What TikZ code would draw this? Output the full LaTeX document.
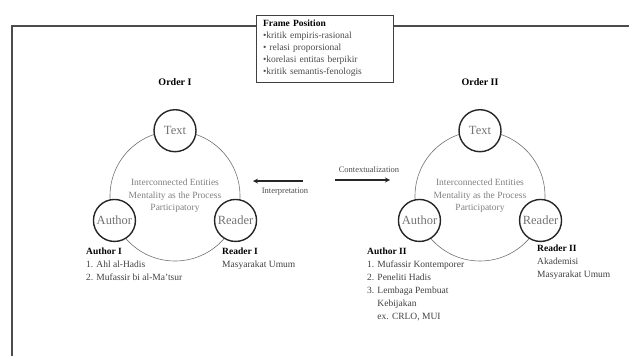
\documentclass[tikz,border=0pt]{standalone}
\usepackage{fontspec}
\setmainfont{Liberation Serif}
\usetikzlibrary{arrows,positioning}
\tikzstyle{ring}=[
  circle,
  draw=black!55,
  semithick,
  minimum size=130pt,
  inner sep=0pt,
  align=center,
  text=black!50,
  font={\fontsize{9.5}{12.5}\selectfont},
]
\tikzstyle{entity}=[
  circle,
  draw=black!85,
  line width=1.4pt,
  fill=white,
  minimum size=42pt,
  inner sep=0pt,
  text=black!55,
  font={\fontsize{12.5}{14}\selectfont},
]
\tikzstyle{order}=[
  font={\bfseries\fontsize{10}{12}\selectfont},
  inner sep=1pt,
]
\tikzstyle{list}=[
  anchor=north west,
  align=left,
  inner sep=0pt,
  text=black!75,
  font={\fontsize{9.5}{13}\selectfont},
]
\tikzstyle{caption}=[
  inner sep=1pt,
  text=black!70,
  font={\fontsize{8.5}{10}\selectfont},
]
\tikzstyle{box}=[
  draw=black!75,
  line width=1pt,
  fill=white,
  minimum width=137pt,
  minimum height=67pt,
  text width=123pt,
  inner xsep=7pt,
  align=left,
  text=black!70,
  font={\fontsize{9.5}{12}\selectfont},
]
\tikzstyle{frame}=[
  draw=black!70,
  line width=1.6pt,
]
\tikzstyle{arrow}=[
  color=black!85,
  draw=black!85,
  line width=1.2pt,
]
\tikzset{
  >=stealth,
}
\begin{document}
\begin{tikzpicture}[x=1pt,y=-1pt]
  \useasboundingbox (0,0) rectangle (629,356);
  \coordinate (corner-b) at (12,356);
  \coordinate (corner-a) at (12,26);
  \coordinate (corner-c) at (629,26);
  \draw [frame] (corner-b) -- (corner-a) -- (corner-c);
  \node (frame) [box] at (324.5,48.5) {\textcolor{black}{\textbf{Frame Position}}\\
    •kritik empiris-rasional\\
    • relasi proporsional\\
    •korelasi entitas berpikir\\
    •kritik semantis-fenologis};
  \node (ring1) [ring] at (175,196) {Interconnected Entities\\Mentality as the Process\\Participatory};
  \node (text1) [entity] at (ring1.north) {Text};
  \node (author1) [entity] at (ring1.202) {Author};
  \node (reader1) [entity] at (ring1.338) {Reader};
  \node (order1) [order, above=22pt of text1] {Order I};
  \node (ring2) [ring] at (480,196) {Interconnected Entities\\Mentality as the Process\\Participatory};
  \node (text2) [entity] at (ring2.north) {Text};
  \node (author2) [entity] at (ring2.202) {Author};
  \node (reader2) [entity] at (ring2.338) {Reader};
  \node (order2) [order, above=22pt of text2] {Order II};
  \node (authorlist1) [list] at (86,248) {\textcolor{black}{\textbf{Author I}}\\1. Ahl al-Hadis\\2. Mufassir bi al-Ma'tsur};
  \node (readerlist1) [list] at (222,248) {\textcolor{black}{\textbf{Reader I}}\\Masyarakat Umum};
  \node (authorlist2) [list] at (367,248) {\textcolor{black}{\textbf{Author II}}\\1. Mufassir Kontemporer\\2. Peneliti Hadis\\3. Lembaga Pembuat\\\phantom{3. }Kebijakan\\\phantom{3. }ex. CRLO, MUI};
  \node (readerlist2) [list] at (537,245) {\textcolor{black}{\textbf{Reader II}}\\Akademisi\\Masyarakat Umum};
  \coordinate (interp-a) at (303,181);
  \coordinate (interp-b) at (253,181);
  \draw [->, arrow] (interp-a) -- (interp-b);
  \node (interp) [caption] at (285,192) {Interpretation};
  \coordinate (context-a) at (335,180);
  \coordinate (context-b) at (390,180);
  \draw [->, arrow] (context-a) -- (context-b);
  \node (context) [caption] at (369,170) {Contextualization};
\end{tikzpicture}
\end{document}
